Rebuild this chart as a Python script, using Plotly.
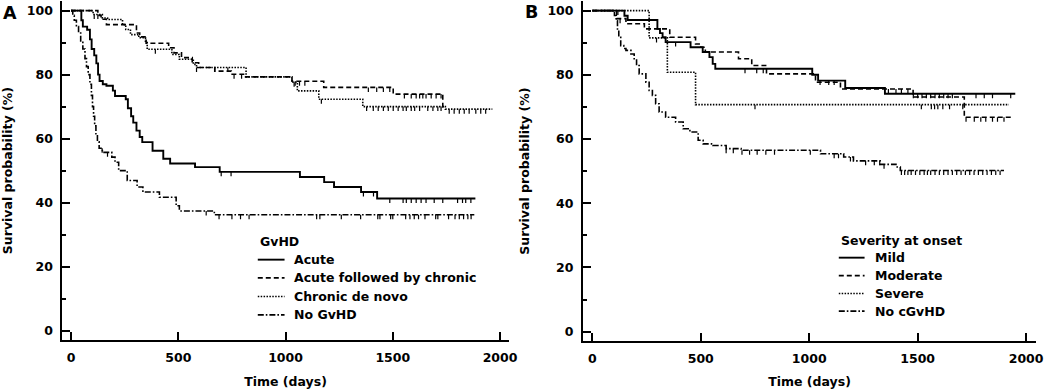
import numpy as np
import plotly.graph_objects as go

# ---------------- Panel A data (GvHD) ----------------
acute_t = [0, 48, 55, 75, 88, 96, 108, 118, 126, 133, 148, 165, 195, 205, 255, 265, 280, 290, 305, 320, 332, 380, 430, 462, 578, 693, 1067, 1180, 1226, 1352, 1427, 1885]
acute_S = [100, 97, 95, 94, 91, 88, 86, 83.5, 80, 78, 77, 76.5, 75, 73.3, 72.3, 69.5, 67, 65, 62.5, 60.5, 58.9, 56.2, 53.7, 52.2, 51.1, 49.6, 48, 46.4, 44.9, 43.3, 41.3, 41.3]
acute_c = [700, 746, 1363, 1410, 1486, 1548, 1563, 1586, 1609, 1632, 1655, 1693, 1733, 1802, 1825, 1840, 1864]

acfc_t = [0, 125, 140, 165, 305, 320, 350, 455, 480, 515, 565, 595, 670, 747, 808, 1030, 1178, 1502, 1733, 1740]
acfc_S = [100, 98.5, 97.3, 95.6, 93.0, 91.8, 89.8, 88.4, 86.8, 85.3, 83.7, 82.2, 81.1, 80.1, 79.3, 77.9, 76.0, 73.9, 70.0, 70.0]
acfc_c = [760, 795, 1045, 1065, 1090, 1386, 1425, 1456, 1486, 1554, 1586, 1609, 1625, 1640, 1655, 1679, 1702, 1725]

chronic_t = [0, 103, 146, 170, 240, 255, 277, 316, 347, 355, 470, 505, 570, 585, 816, 1030, 1055, 1155, 1360, 1745, 1964]
chronic_S = [100, 98.8, 97.7, 97.2, 95.6, 94.1, 92.5, 91.5, 90.0, 87.9, 86.3, 84.8, 83.2, 82.2, 79.3, 77.6, 74.9, 72.3, 70.0, 69.2, 69.2]
chronic_c = [108, 125, 393, 585, 670, 731, 1040, 1167, 1378, 1409, 1432, 1456, 1479, 1502, 1525, 1548, 1563, 1586, 1602, 1625,
             1663, 1687, 1710, 1725, 1763, 1786, 1810, 1833, 1856, 1887, 1910, 1933]

nogvhd_t = [0, 8, 15, 25, 35, 45, 55, 65, 72, 80, 88, 95, 100, 105, 110, 116, 123, 131, 146, 190, 205, 222, 262, 308, 335, 412, 490, 505, 668, 1880]
nogvhd_S = [100, 98.5, 97, 95, 93, 90.5, 88, 85, 82.5, 80, 77, 73.5, 70, 67, 64, 61.5, 59, 57, 55.7, 54.2, 52.6, 50, 46.9, 44.9, 43.3, 41.7, 39, 37.4, 36.2, 36.2]
nogvhd_c = [145, 170, 630, 690, 750, 790, 830, 1145, 1160, 1260, 1350, 1430, 1440, 1490, 1500, 1560, 1580, 1600, 1620, 1650,
            1700, 1710, 1760, 1790, 1810, 1830, 1850, 1865]

# ---------------- Panel B data (Severity at onset) ----------------
mild_t = [0, 148, 163, 300, 312, 324, 338, 453, 509, 540, 555, 567, 1014, 1041, 1166, 1349, 1950]
mild_S = [100, 98.4, 97.1, 94.3, 93.0, 91.7, 90.2, 88.6, 87.1, 85.5, 83.4, 81.9, 80.0, 78.2, 75.9, 74.1, 74.1]
mild_c = [118, 384, 704, 758, 788, 1050, 1090, 1115, 1480, 1500, 1520, 1540, 1560, 1580, 1600, 1620, 1640, 1660,
          1769, 1807, 1845, 1929]

moderate_t = [0, 112, 155, 240, 357, 476, 500, 521, 674, 735, 803, 1029, 1144, 1479, 1715, 1937]
moderate_S = [100, 97.5, 95.9, 94.3, 91.7, 89.6, 88.6, 87.1, 85.0, 82.9, 80.3, 77.7, 75.6, 73.1, 66.8, 66.8]
moderate_c = [128, 1365, 1400, 1425, 1455, 1723, 1761, 1791, 1814, 1845, 1868, 1898]

severe_t = [0, 262, 346, 476, 1921]
severe_S = [100, 91.5, 80.8, 70.7, 70.7]
severe_c = [296, 750, 1517, 1563, 1578, 1593, 1616, 1647, 1708]

nocg_t = [0, 102, 110, 116, 122, 131, 145, 155, 178, 193, 204, 216, 247, 262, 277, 292, 308, 338, 384, 419, 450, 488, 511,
          556, 617, 686, 1052, 1159, 1204, 1327, 1400, 1420, 1898]
nocg_S = [100, 98.5, 96.9, 94, 91.7, 89.1, 88.2, 87.6, 86.5, 85.0, 82.9, 80.3, 77.7, 75.1, 73.6, 71.0, 68.4, 66.8, 65.3, 63.2,
          62.2, 59.6, 58.5, 58.0, 57.0, 56.5, 55.4, 54.4, 53.2, 52.1, 51.3, 50.2, 50.2]
nocg_c = [617, 650, 690, 725, 760, 800, 840, 1005, 1115, 1135, 1190, 1260, 1300, 1325, 1345, 1425, 1440, 1455, 1470, 1490,
          1510, 1530, 1545, 1560, 1580, 1600, 1620, 1640, 1660, 1680, 1700, 1720, 1740, 1760, 1780, 1800, 1820, 1840, 1860, 1880]

legend_a_title = "GvHD"
legend_a_names = ["Acute", "Acute followed by chronic", "Chronic de novo", "No GvHD"]
legend_b_title = "Severity at onset"
legend_b_names = ["Mild", "Moderate", "Severe", "No cGvHD"]
styles = ["solid", "dash", "dot", "dashdot"]

x_ticks = [0, 500, 1000, 1500, 2000]
y_ticks = [0, 20, 40, 60, 80, 100]

FONT = "DejaVu Sans"
FS = 12.5
DASH = {"solid": "solid", "dash": "5px,3px", "dot": "1.5px,1.4px", "dashdot": "6px,2px,1.6px,2px"}
WIDTH = {"solid": 1.9, "dash": 1.6, "dot": 1.6, "dashdot": 1.6}
W, H = 1056, 389

fig = go.Figure()


def step_at(t, S, tc):
    t = np.asarray(t, float)
    S = np.asarray(S, float)
    idx = np.searchsorted(t, np.asarray(tc, float), side="right") - 1
    idx = np.clip(idx, 0, len(S) - 1)
    return S[idx]


def add_km(t, S, cens, name, dash, xa, ya):
    fig.add_trace(go.Scatter(
        x=t, y=S, mode="lines", name=name, xaxis=xa, yaxis=ya, showlegend=False,
        line=dict(shape="hv", color="black", width=WIDTH[dash], dash=DASH[dash]),
        hoverinfo="skip"))
    cy = step_at(t, S, cens)
    fig.add_trace(go.Scatter(
        x=cens, y=cy, mode="markers", xaxis=xa, yaxis=ya, showlegend=False, hoverinfo="skip",
        marker=dict(size=1, color="rgba(0,0,0,0)"),
        error_y=dict(type="data", symmetric=False, array=[0] * len(cens), arrayminus=[1.4] * len(cens),
                     width=0, thickness=1.2, color="black")))


series_a = [(acute_t, acute_S, acute_c), (acfc_t, acfc_S, acfc_c), (chronic_t, chronic_S, chronic_c),
            (nogvhd_t, nogvhd_S, nogvhd_c)]
series_b = [(mild_t, mild_S, mild_c), (moderate_t, moderate_S, moderate_c), (severe_t, severe_S, severe_c),
            (nocg_t, nocg_S, nocg_c)]
for (t, S, c), nm, st in zip(series_a, legend_a_names, styles):
    add_km(t, S, c, nm, st, "x", "y")
for (t, S, c), nm, st in zip(series_b, legend_b_names, styles):
    add_km(t, S, c, nm, st, "x2", "y2")

tickfont = dict(family=FONT, size=FS, color="black", weight="bold")
titlefont = dict(family=FONT, size=FS, color="black", weight="bold")

xcommon = dict(showline=True, linewidth=2, linecolor="black", ticks="inside", ticklen=8, tickwidth=2,
               tickcolor="black", tickvals=x_ticks, ticktext=[str(v) for v in x_ticks], showgrid=False,
               zeroline=False, tickfont=tickfont, ticklabelstandoff=5,
               title=dict(text="Time (days)", font=titlefont, standoff=14))
ycommon = dict(showline=True, linewidth=2, linecolor="black", ticks="inside", ticklen=8, tickwidth=2,
               tickcolor="black", tickvals=y_ticks, ticktext=[str(v) for v in y_ticks], showgrid=False,
               zeroline=False, tickfont=tickfont, ticklabelstandoff=5,
               minor=dict(ticks="inside", ticklen=4, tickwidth=1.5, tickcolor="black", dtick=10, tick0=0, showgrid=False),
               title=dict(text="Survival probability (%)", font=titlefont, standoff=15))

# ---- manual legends (layout decorations) ----
shapes = []
annotations = [
    dict(text="A", x=10.5 / W, y=1 - 13.5 / H, xref="paper", yref="paper", xanchor="center", yanchor="middle",
         showarrow=False, font=dict(family=FONT, size=17.5, color="black", weight="bold")),
    dict(text="B", x=536.5 / W, y=1 - 12.5 / H, xref="paper", yref="paper", xanchor="center", yanchor="middle",
         showarrow=False, font=dict(family=FONT, size=17.5, color="black", weight="bold")),
]
legfont = dict(family=FONT, size=FS, color="black", weight="bold")


def add_legend(title, names, x0, sample_w, text_x, title_y, item_ys):
    annotations.append(dict(text=title, x=x0 / W, y=1 - title_y / H, xref="paper", yref="paper",
                            xanchor="left", yanchor="middle", showarrow=False, font=legfont))
    for nm, st, yy in zip(names, styles, item_ys):
        shapes.append(dict(type="line", xref="paper", yref="paper", x0=x0 / W, x1=(x0 + sample_w) / W,
                           y0=1 - yy / H, y1=1 - yy / H,
                           line=dict(color="black", width=WIDTH[st], dash=DASH[st])))
        annotations.append(dict(text=nm, x=text_x / W, y=1 - yy / H, xref="paper", yref="paper",
                                xanchor="left", yanchor="middle", showarrow=False, font=legfont))


add_legend(legend_a_title, legend_a_names, 260, 27, 295, 243, [261, 279.3, 298, 316.5])
add_legend(legend_b_title, legend_b_names, 846, 26, 881, 241.7, [259, 277, 295, 312.7])

fig.update_layout(
    width=W, height=H, margin=dict(l=0, r=0, t=0, b=0),
    paper_bgcolor="white", plot_bgcolor="white", showlegend=False,
    xaxis=dict(domain=[63 / W, 513 / W], range=[-40, 2040], anchor="y", **xcommon),
    yaxis=dict(domain=[(H - 342) / H, (H - 1) / H], range=[-3, 103], anchor="x", **ycommon),
    xaxis2=dict(domain=[588 / W, 1045 / W], range=[-43, 2046], anchor="y2", **xcommon),
    yaxis2=dict(domain=[(H - 343) / H, (H - 1) / H], range=[-3, 103], anchor="x2", **ycommon),
    shapes=shapes, annotations=annotations,
)

fig.write_html("out.html", config={"displayModeBar": False}, post_script="document.body.style.margin='0';")
